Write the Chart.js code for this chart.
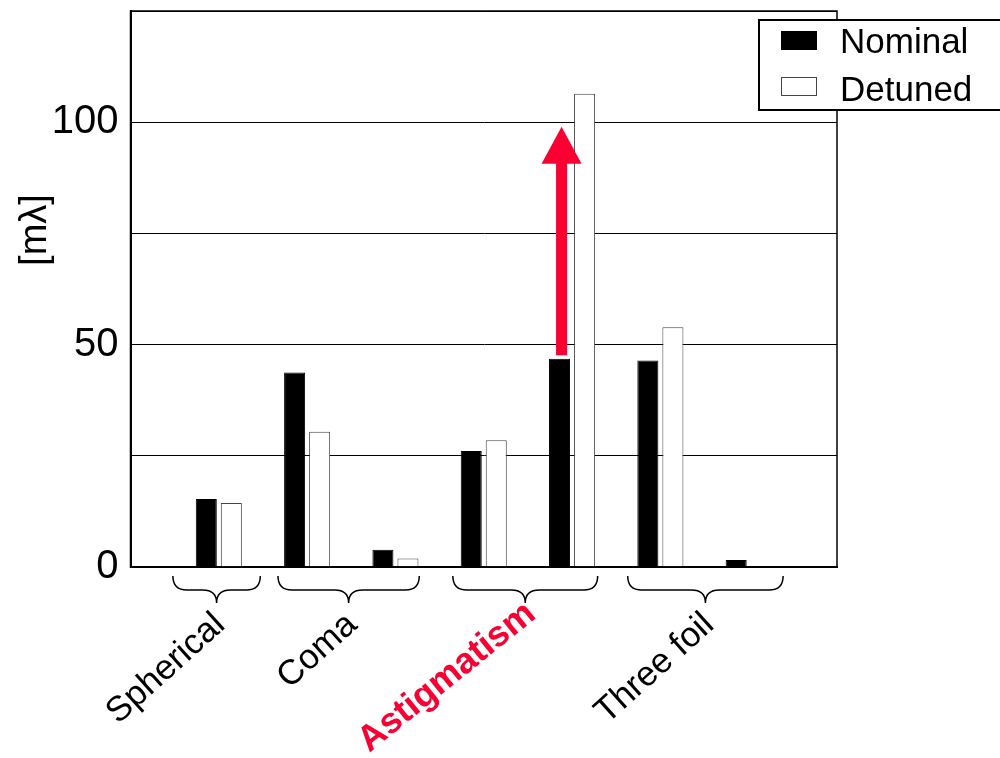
<!DOCTYPE html>
<html>
<head>
<meta charset="utf-8">
<script src="https://cdn.jsdelivr.net/npm/chart.js@4.4.1/dist/chart.umd.min.js"></script>
<style>
  body { margin: 0; background: #fff; }
  #wrap { width: 1000px; height: 758px; position: relative; }
</style>
</head>
<body>
<div id="wrap"><canvas id="aberrationChart"></canvas></div>
<script>
// Bar slots (first and last are empty so the bars sit like the original)
const slots = ["", "Spherical", "Coma 1", "Coma 2", "Astigmatism 1", "Astigmatism 2", "Three foil 1", "Three foil 2", ""];
const nominal = [null, 15.3, 43.7, 3.9, 26.1, 46.8, 46.4, 1.6, null];
const detuned = [null, 14.4, 30.4, 1.9, 28.5, 106.4, 53.9, 0, null];

// Group labels under the braces, with the slot range each brace covers
const groupNames = ["Spherical", "Coma", "Astigmatism", "Three foil"];
const groupFrom = [0.48, 1.67, 3.65, 5.63];
const groupTo = [1.47, 3.27, 5.29, 7.39];

// Y ticks that get a label
const yTicksShown = [0, 50, 100];

// Red arrow (from nominal to detuned astigmatism)
const arrowSlot = 5;
const arrowFrom = 47.6;
const arrowTo = 99;

const RED = "rgb(250, 0, 50)";
const FONT = "'Liberation Sans', Arial, sans-serif";

// Draws the curly braces, rotated group labels, the arrow, frame, y title and legend
const extrasPlugin = {
    id: "extras",
    afterDatasetsDraw(chart) {
        const ctx = chart.ctx;
        const xs = chart.scales.x;
        const ys = chart.scales.y;

        // red arrow
        const ax = xs.getPixelForValue(arrowSlot) - 10.5;
        const yBottom = ys.getPixelForValue(arrowFrom);
        const yTip = ys.getPixelForValue(arrowTo);
        const headLen = 37;
        ctx.save();
        ctx.fillStyle = RED;
        ctx.fillRect(ax - 5.5, yTip + headLen - 1, 11, yBottom - yTip - headLen + 1);
        ctx.beginPath();
        ctx.moveTo(ax, yTip);
        ctx.lineTo(ax - 20, yTip + headLen);
        ctx.lineTo(ax + 20, yTip + headLen);
        ctx.closePath();
        ctx.fill();
        ctx.restore();
    },
    afterDraw(chart) {
        const ctx = chart.ctx;
        const xs = chart.scales.x;
        const area = chart.chartArea;

        // frame around the plot
        ctx.save();
        ctx.strokeStyle = "#000";
        ctx.lineWidth = 1.5;
        ctx.strokeRect(area.left, area.top, area.right - area.left, area.bottom - area.top);
        ctx.restore();

        // y axis title, placed higher than centre like the original
        ctx.save();
        ctx.translate(36, 230);
        ctx.rotate(-Math.PI / 2);
        ctx.fillStyle = "#000";
        ctx.font = "38px " + FONT;
        ctx.textAlign = "center";
        ctx.textBaseline = "middle";
        ctx.fillText("[mλ]", 0, 0);
        ctx.restore();

        // braces + labels
        const y0 = area.bottom + 9;
        const y1 = y0 + 14;
        const tipY = y1 + 13;
        const r = 14;
        groupNames.forEach((name, i) => {
            const x1 = xs.getPixelForValue(groupFrom[i]);
            const x2 = xs.getPixelForValue(groupTo[i]);
            const xm = (x1 + x2) / 2;
            ctx.save();
            ctx.strokeStyle = "#000";
            ctx.lineWidth = 1.5;
            ctx.beginPath();
            ctx.moveTo(x1, y0);
            ctx.quadraticCurveTo(x1, y1, x1 + r, y1);
            ctx.lineTo(xm - r, y1);
            ctx.quadraticCurveTo(xm, y1, xm, tipY);
            ctx.quadraticCurveTo(xm, y1, xm + r, y1);
            ctx.lineTo(x2 - r, y1);
            ctx.quadraticCurveTo(x2, y1, x2, y0);
            ctx.stroke();

            const isAstig = name === "Astigmatism";
            const dx = isAstig ? 12 : 10;
            const dy = isAstig ? 14 : 24;
            ctx.translate(xm + dx, tipY + dy);
            ctx.rotate(-(isAstig ? 39 : 42) * Math.PI / 180);
            ctx.textAlign = "right";
            ctx.textBaseline = "alphabetic";
            ctx.fillStyle = isAstig ? RED : "#000";
            ctx.font = (isAstig ? "bold 36px " : "35px ") + FONT;
            ctx.fillText(name, 0, 0);
            ctx.restore();
        });

        // legend box (sticks out past the right edge like the original)
        ctx.save();
        ctx.fillStyle = "#fff";
        ctx.fillRect(759, 20, 260, 90);
        ctx.strokeStyle = "#000";
        ctx.lineWidth = 2;
        ctx.strokeRect(759, 20, 260, 90);
        const sets = chart.data.datasets;
        sets.forEach((ds, i) => {
            const sy = 31 + i * 46;
            ctx.fillStyle = ds.backgroundColor;
            ctx.fillRect(781, sy, 36, 19);
            ctx.strokeStyle = ds.borderColor;
            ctx.lineWidth = 1;
            ctx.strokeRect(781.5, sy + 0.5, 35, 18);
            ctx.fillStyle = "#000";
            ctx.font = "35px " + FONT;
            ctx.textAlign = "left";
            ctx.textBaseline = "alphabetic";
            ctx.fillText(ds.label, 840, 53 + i * 48);
        });
        ctx.restore();
    }
};

const ctx = document.getElementById("aberrationChart").getContext("2d");
new Chart(ctx, {
    type: "bar",
    data: {
        labels: slots,
        datasets: [
            {
                label: "Nominal",
                data: nominal,
                backgroundColor: "#000",
                borderColor: "#000",
                borderWidth: 1
            },
            {
                label: "Detuned",
                data: detuned,
                backgroundColor: "#fff",
                borderColor: "#444",
                borderWidth: 1
            }
        ]
    },
    options: {
        responsive: true,
        maintainAspectRatio: false,
        animation: false,
        categoryPercentage: 0.567,
        barPercentage: 0.84,
        layout: { padding: { top: 11, right: 163, bottom: 191, left: 0 } },
        plugins: {
            legend: { display: false },
            tooltip: { enabled: false }
        },
        scales: {
            x: {
                offset: false,
                ticks: { display: false },
                grid: { display: false, drawTicks: false },
                border: { display: true, color: "#000", width: 2 }
            },
            y: {
                min: 0,
                max: 125,
                afterFit: function (scale) {
                    scale.width = 130.5;
                    scale.paddingTop = 0;
                    scale.paddingBottom = 0;
                },
                ticks: {
                    stepSize: 25,
                    color: "#000",
                    padding: 12,
                    font: { family: FONT, size: 40 },
                    callback: function (value) {
                        return yTicksShown.includes(value) ? value : "";
                    }
                },
                grid: { color: "#000", lineWidth: 1, drawTicks: false },
                border: { display: true, color: "#000", width: 2 }
            }
        }
    },
    plugins: [extrasPlugin]
});
</script>
</body>
</html>
